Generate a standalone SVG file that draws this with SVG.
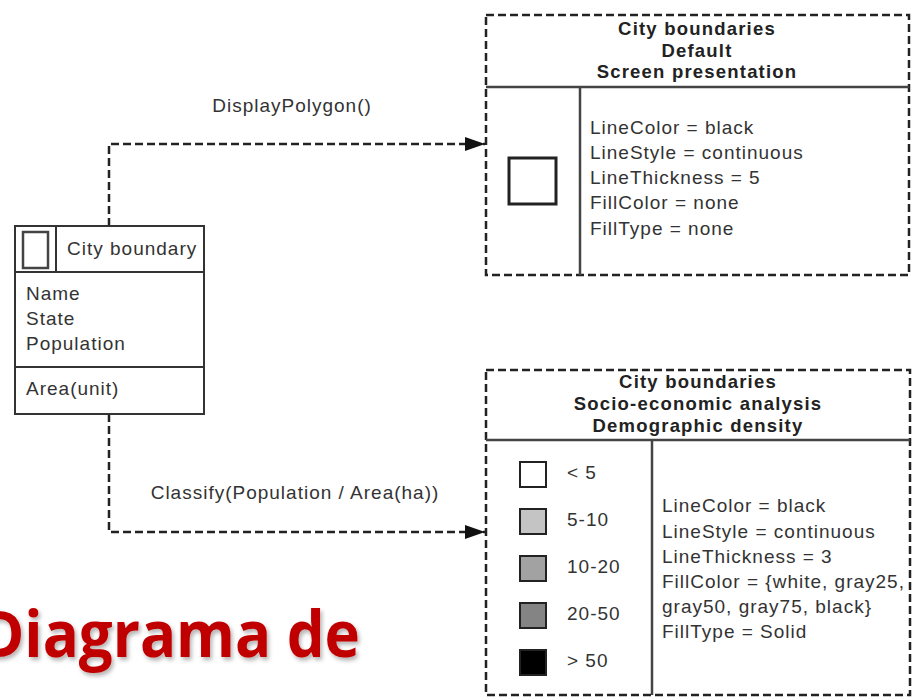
<svg xmlns="http://www.w3.org/2000/svg" width="914" height="698" viewBox="0 0 914 698">
<defs>
<style>
.t{font-family:"Liberation Sans",Arial,sans-serif;font-size:19px;fill:#333;letter-spacing:1px}
.b{font-family:"Liberation Sans",Arial,sans-serif;font-size:18.5px;font-weight:bold;fill:#222;letter-spacing:1.2px;text-anchor:middle}
.dash{fill:none;stroke:#222;stroke-width:2.5;stroke-dasharray:8 4}
.solid{fill:none;stroke:#444;stroke-width:2.5}
.title{font-family:"Open Sans","Noto Sans",sans-serif;font-weight:bold;font-size:64px;fill:#C00000}
</style>
<marker id="arr" viewBox="0 0 20 14" refX="20" refY="7" markerWidth="20" markerHeight="14" markerUnits="userSpaceOnUse" orient="auto">
<path d="M0,0 L20,7 L0,14 Z" fill="#111"/>
</marker>
<filter id="sh" x="-10%" y="-10%" width="130%" height="140%">
<feDropShadow dx="2" dy="3" stdDeviation="2" flood-color="#000" flood-opacity="0.3"/>
</filter>
</defs>
<rect width="914" height="698" fill="#fff"/>

<g id="connectors">
<path class="dash" d="M109,226 V144 H485" marker-end="url(#arr)"/>
<path class="dash" d="M109,414 V532 H485" marker-end="url(#arr)"/>
<text class="t" x="292" y="112" text-anchor="middle">DisplayPolygon()</text>
<text class="t" x="295" y="499" text-anchor="middle">Classify(Population / Area(ha))</text>
</g>

<g id="city-boundary">
<rect x="15" y="226" width="189" height="188" fill="#fff" stroke="#333" stroke-width="2"/>
<line x1="15" y1="272" x2="204" y2="272" stroke="#333" stroke-width="2"/>
<line x1="15" y1="367" x2="204" y2="367" stroke="#333" stroke-width="2"/>
<line x1="56" y1="226" x2="56" y2="272" stroke="#333" stroke-width="2"/>
<rect x="23" y="232" width="25" height="36" fill="#fff" stroke="#444" stroke-width="2.5"/>
<text class="t" x="67" y="255">City boundary</text>
<text class="t" x="26" y="300">Name</text>
<text class="t" x="26" y="325">State</text>
<text class="t" x="26" y="350">Population</text>
<text class="t" x="26" y="395">Area(unit)</text>
</g>

<g id="default-presentation">
<rect class="dash" x="486" y="15" width="423" height="260"/>
<line class="solid" x1="486" y1="87" x2="909" y2="87"/>
<line class="solid" x1="580" y1="87" x2="580" y2="275"/>
<text class="b" x="697" y="35">City boundaries</text>
<text class="b" x="697" y="57">Default</text>
<text class="b" x="697" y="78">Screen presentation</text>
<rect x="509" y="158" width="47" height="46" fill="#fff" stroke="#222" stroke-width="3"/>
<text class="t" x="590" y="134">LineColor = black</text>
<text class="t" x="590" y="159">LineStyle = continuous</text>
<text class="t" x="590" y="184">LineThickness = 5</text>
<text class="t" x="590" y="209">FillColor = none</text>
<text class="t" x="590" y="235">FillType = none</text>
</g>

<g id="density-presentation">
<rect class="dash" x="486" y="370" width="424" height="325"/>
<line class="solid" x1="486" y1="440" x2="910" y2="440"/>
<line class="solid" x1="652" y1="440" x2="652" y2="695"/>
<text class="b" x="698" y="388">City boundaries</text>
<text class="b" x="698" y="410">Socio-economic analysis</text>
<text class="b" x="698" y="432">Demographic density</text>
<rect x="520" y="462" width="26" height="25" fill="#fff" stroke="#222" stroke-width="2"/>
<rect x="520" y="509" width="26" height="25" fill="#c4c4c4" stroke="#222" stroke-width="2"/>
<rect x="520" y="556" width="26" height="25" fill="#a2a2a2" stroke="#222" stroke-width="2"/>
<rect x="520" y="603" width="26" height="25" fill="#848484" stroke="#222" stroke-width="2"/>
<rect x="520" y="650" width="26" height="25" fill="#000" stroke="#222" stroke-width="2"/>
<text class="t" x="567" y="479">&lt; 5</text>
<text class="t" x="567" y="526">5-10</text>
<text class="t" x="567" y="573">10-20</text>
<text class="t" x="567" y="620">20-50</text>
<text class="t" x="567" y="667">&gt; 50</text>
<text class="t" x="662" y="512">LineColor = black</text>
<text class="t" x="662" y="538">LineStyle = continuous</text>
<text class="t" x="662" y="563">LineThickness = 3</text>
<text class="t" x="662" y="588">FillColor = {white, gray25,</text>
<text class="t" x="662" y="613">gray50, gray75, black}</text>
<text class="t" x="662" y="638">FillType = Solid</text>
</g>

<text class="title" x="-20" y="657" textLength="380" lengthAdjust="spacingAndGlyphs" filter="url(#sh)">Diagrama de</text>
</svg>
